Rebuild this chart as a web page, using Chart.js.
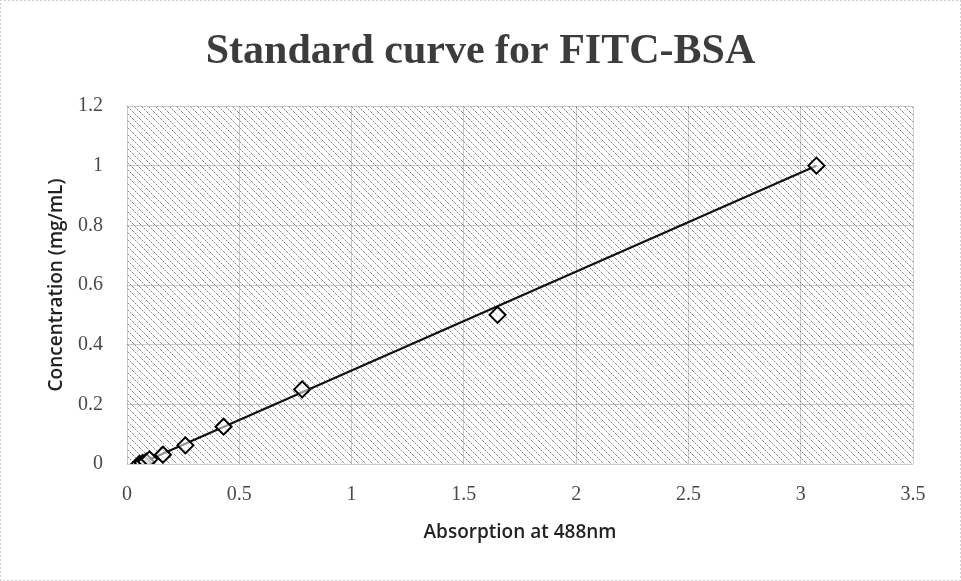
<!DOCTYPE html>
<html>
<head>
<meta charset="utf-8">
<script src="https://cdn.jsdelivr.net/npm/chart.js@4/dist/chart.umd.min.js"></script>
<style>
  html, body { margin: 0; padding: 0; background: #fff; }
  #wrap { width: 961px; height: 581px; }
</style>
</head>
<body>
<div id="wrap"><canvas id="c" width="961" height="581"></canvas></div>
<script>
// ---- data ----
const absorption    = [0.055, 0.07, 0.085, 0.10, 0.16, 0.26, 0.43, 0.78, 1.65, 3.07];
const concentration = [0, 0.0039, 0.0078, 0.0156, 0.03125, 0.0625, 0.125, 0.25, 0.5, 1.0];
const trendX = [0.055, 3.07];
const trendY = [0.0, 1.0];
const xTicks = [0, 0.5, 1, 1.5, 2, 2.5, 3, 3.5];
const yTicks = [0, 0.2, 0.4, 0.6, 0.8, 1, 1.2];
const chartTitle = 'Standard curve for FITC-BSA';
const xTitle = 'Absorption at 488nm';
const yTitle = 'Concentration (mg/mL)';

function makeHatch(ctx) {
  const t = document.createElement('canvas');
  t.width = 7; t.height = 7;
  const g = t.getContext('2d');
  g.fillStyle = '#ffffff';
  g.fillRect(0, 0, 7, 7);
  for (let i = 0; i < 7; i++) {
    g.fillStyle = (i % 2 === 0) ? '#8c8c8c' : '#d6d6d6';
    g.fillRect(i, i, 1, 1);
  }
  g.fillStyle = '#ececec';
  g.fillRect(4, 1, 1, 1);
  g.fillRect(1, 5, 1, 1);
  return ctx.createPattern(t, 'repeat');
}

const bgPlugin = {
  id: 'bg',
  beforeDraw(chart) {
    const ctx = chart.ctx;
    const a = chart.chartArea;
    ctx.save();
    ctx.fillStyle = '#ffffff';
    ctx.fillRect(0, 0, chart.width, chart.height);
    ctx.fillStyle = makeHatch(ctx);
    ctx.fillRect(a.left, a.top, a.right - a.left, a.bottom - a.top);
    ctx.strokeStyle = '#a0a0a0';
    ctx.lineWidth = 1;
    ctx.setLineDash([1, 3]);
    ctx.strokeRect(0.5, 0.5, chart.width - 1, chart.height - 1);
    ctx.restore();
  }
};

const tickFont = { family: '"Liberation Serif", "DejaVu Serif", serif', size: 20 };
const axisTitleFont = { family: '"Open Sans", "Liberation Sans", sans-serif', size: 19, weight: '600' };

new Chart(document.getElementById('c'), {
  type: 'scatter',
  data: {
    datasets: [
      {
        label: 'Data',
        data: absorption.map((x, i) => ({ x: x, y: concentration[i] })),
        showLine: false,
        pointStyle: 'rectRot',
        pointRadius: 8,
        pointBorderWidth: 2,
        borderColor: '#000',
        backgroundColor: 'rgba(255,255,255,0.55)',
        order: 0
      },
      {
        label: 'Linear fit',
        data: trendX.map((x, i) => ({ x: x, y: trendY[i] })),
        showLine: true,
        pointRadius: 0,
        borderColor: '#111',
        borderWidth: 2.2,
        order: 1
      }
    ]
  },
  options: {
    responsive: false,
    animation: false,
    layout: { padding: { left: 0, right: 0, top: 0, bottom: 0 } },
    plugins: {
      legend: { display: false },
      tooltip: { enabled: false },
      title: {
        display: true,
        text: chartTitle,
        color: '#3c3c3c',
        font: { family: '"Liberation Serif", "DejaVu Serif", serif', size: 42, weight: 'bold', lineHeight: 1.2 },
        padding: { top: 27, bottom: 28.6 }
      }
    },
    scales: {
      x: {
        type: 'linear',
        min: 0, max: 3.5,
        afterBuildTicks(s) { s.ticks = xTicks.map(v => ({ value: v })); },
        afterFit(s) { s.height = 117; },
        ticks: { color: '#4a4a4a', font: tickFont, padding: 19, maxRotation: 0,
                 callback: v => String(v) },
        grid: { color: 'rgba(0,0,0,0.2)', drawTicks: false, lineWidth: 1 },
        border: { display: false },
        title: { display: true, text: xTitle, color: '#222', font: axisTitleFont, padding: { top: 0, bottom: 36.6 } }
      },
      y: {
        type: 'linear',
        min: 0, max: 1.2,
        afterBuildTicks(s) { s.ticks = yTicks.map(v => ({ value: v })); },
        afterFit(s) { s.width = 127; },
        ticks: { color: '#4a4a4a', font: tickFont, padding: 24, callback: v => String(v) },
        grid: { color: 'rgba(0,0,0,0.2)', drawTicks: false, lineWidth: 1 },
        border: { display: false },
        title: { display: true, text: yTitle, color: '#222', font: axisTitleFont, padding: { top: 45.6, bottom: 0 } }
      },
      yRight: {
        type: 'linear',
        position: 'right',
        min: 0, max: 1.2,
        afterFit(s) { s.width = 48; },
        ticks: { display: false },
        grid: { display: false, drawTicks: false },
        border: { display: false },
        title: { display: false }
      }
    }
  },
  plugins: [bgPlugin]
});
</script>
</body>
</html>
